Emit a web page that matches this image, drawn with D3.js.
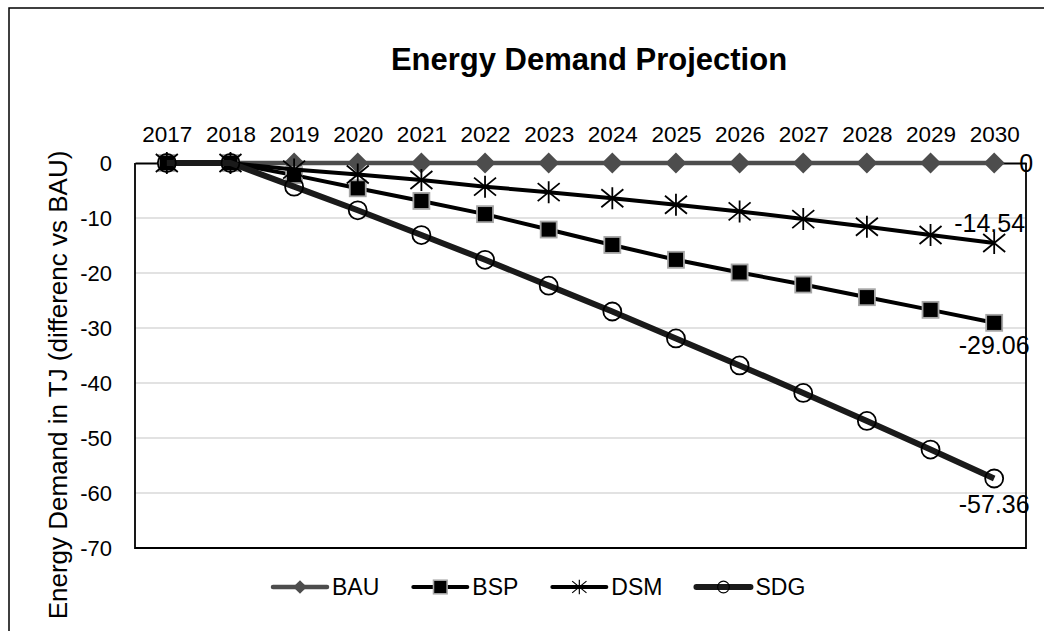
<!DOCTYPE html>
<html>
<head>
<meta charset="utf-8">
<script src="https://cdn.jsdelivr.net/npm/d3@7"></script>
<style>
  body { margin: 0; background: #fff; }
  svg { font-family: "Liberation Sans", Arial, sans-serif; }
</style>
</head>
<body>
<svg id="chart" width="1044" height="631"></svg>
<script>
// chart data
var years = ["2017", "2018", "2019", "2020", "2021", "2022", "2023", "2024", "2025", "2026", "2027", "2028", "2029", "2030"];
var bau = [0, 0, 0, 0, 0, 0, 0, 0, 0, 0, 0, 0, 0, 0];
var bsp = [0, 0, -2.2, -4.6, -6.9, -9.3, -12.1, -14.9, -17.6, -19.9, -22.1, -24.4, -26.7, -29.06];
var dsm = [0, 0, -1.2, -2.1, -3.1, -4.3, -5.3, -6.4, -7.6, -8.8, -10.2, -11.6, -13.1, -14.54];
var sdg = [0, 0, -4.3, -8.6, -13.1, -17.6, -22.3, -27.0, -31.9, -36.8, -41.8, -46.9, -52.1, -57.36];
var yTicks = [0, -10, -20, -30, -40, -50, -60, -70];

var seriesNames = ["BAU", "BSP", "DSM", "SDG"];
var seriesValues = [bau, bsp, dsm, sdg];

var svg = d3.select("#chart");
var FONT = "Liberation Sans, Arial, sans-serif";
var plain = function(d) { return String(d); }; // hyphen minus like Excel

// outer chart border (runs off the bottom/right of the picture)
svg.append("rect")
  .attr("x", 9).attr("y", 8)
  .attr("width", 1060).attr("height", 700)
  .attr("fill", "#fff")
  .attr("stroke", "#000")
  .attr("stroke-width", 1.5);

var plot = { left: 135, right: 1026, top: 163, bottom: 548 };

var x = d3.scalePoint()
  .domain(years)
  .range([plot.left, plot.right])
  .padding(0.5);

var y = d3.scaleLinear()
  .domain([-70, 0])
  .range([plot.bottom, plot.top]);

// title
svg.append("text")
  .attr("x", 589).attr("y", 70)
  .attr("text-anchor", "middle")
  .attr("font-size", 31)
  .attr("font-weight", "bold")
  .text("Energy Demand Projection");

// gridlines
svg.append("g")
  .selectAll("line")
  .data(yTicks.filter(function(d) { return d !== 0 && d !== -70; }))
  .enter().append("line")
  .attr("x1", plot.left).attr("x2", plot.right)
  .attr("y1", function(d) { return y(d); })
  .attr("y2", function(d) { return y(d); })
  .attr("stroke", "#d9d9d9")
  .attr("stroke-width", 1.5);

// plot border
svg.append("path")
  .attr("d", "M" + plot.left + "," + plot.top + "V" + plot.bottom + "H" + plot.right + "V" + plot.top)
  .attr("fill", "none")
  .attr("stroke", "#000")
  .attr("stroke-width", 1.8);

// y axis
var yAxis = svg.append("g")
  .attr("transform", "translate(" + plot.left + ",0)")
  .call(d3.axisLeft(y).tickValues(yTicks).tickFormat(plain).tickSize(0).tickPadding(23));
yAxis.select(".domain").remove();
yAxis.selectAll("text")
  .attr("font-size", 22)
  .attr("font-family", FONT)
  .attr("fill", "#000");

// x axis sits at y = 0 with labels above
var xAxis = svg.append("g")
  .attr("transform", "translate(0," + y(0) + ")")
  .call(d3.axisTop(x).tickSize(0).tickPadding(21));
xAxis.select(".domain")
  .attr("stroke", "#000")
  .attr("stroke-width", 1.8);
xAxis.selectAll("text")
  .attr("font-size", 22.5)
  .attr("font-family", FONT)
  .attr("fill", "#000");

// y axis title
svg.append("text")
  .attr("transform", "translate(67,385) rotate(-90)")
  .attr("text-anchor", "middle")
  .attr("font-size", 26)
  .text("Energy Demand in TJ (differenc vs BAU)");

// series styles
var styles = {
  BAU: { color: "#4d4d4d", width: 4.5 },
  BSP: { color: "#000", width: 4 },
  DSM: { color: "#000", width: 4 },
  SDG: { color: "#1a1a1a", width: 6 }
};

function drawMarker(g, name) {
  if (name === "BAU") {
    g.append("path")
      .attr("d", "M0,-10.5L10.5,0L0,10.5L-10.5,0Z")
      .attr("fill", "#4d4d4d");
  } else if (name === "BSP") {
    g.append("rect")
      .attr("x", -8).attr("y", -8)
      .attr("width", 16).attr("height", 16)
      .attr("fill", "#000")
      .attr("stroke", "#a6a6a6")
      .attr("stroke-width", 1.8);
  } else if (name === "DSM") {
    g.append("path")
      .attr("d", "M-11,-9L11,9M-11,9L11,-9M0,-11V11")
      .attr("stroke", "#000")
      .attr("stroke-width", 1.8)
      .attr("fill", "none");
  } else {
    g.append("circle")
      .attr("r", 9)
      .attr("fill", "none")
      .attr("stroke", "#000")
      .attr("stroke-width", 1.8);
  }
}

var line = d3.line()
  .x(function(d) { return x(d.year); })
  .y(function(d) { return y(d.value); });

seriesNames.forEach(function(name, i) {
  var pts = years.map(function(yr, j) { return { year: yr, value: seriesValues[i][j] }; });
  var g = svg.append("g").attr("class", "series");
  g.append("path")
    .datum(pts)
    .attr("d", line)
    .attr("fill", "none")
    .attr("stroke", styles[name].color)
    .attr("stroke-width", styles[name].width)
    .attr("stroke-linejoin", "round");
  g.selectAll("g.marker")
    .data(pts)
    .enter().append("g")
    .attr("class", "marker")
    .attr("transform", function(d) { return "translate(" + x(d.year) + "," + y(d.value) + ")"; })
    .each(function() { drawMarker(d3.select(this), name); });
});

// data labels on the last point
var last = years.length - 1;
var labels = [
  { v: bau[last], dx: 25, dy: 9, anchor: "start" },
  { v: bsp[last], dx: 0, dy: 31, anchor: "middle" },
  { v: dsm[last], dx: -4.5, dy: -11, anchor: "middle" },
  { v: sdg[last], dx: 0, dy: 35, anchor: "middle" }
];
svg.append("g")
  .selectAll("text")
  .data(labels)
  .enter().append("text")
  .attr("x", function(d) { return x(years[last]) + d.dx; })
  .attr("y", function(d) { return y(d.v) + d.dy; })
  .attr("text-anchor", function(d) { return d.anchor; })
  .attr("font-size", 25)
  .text(function(d) { return plain(d.v); });

// legend, laid out left to right like Excel does
var legend = svg.append("g").attr("transform", "translate(273,587)");
var lx = 0;
seriesNames.forEach(function(name) {
  var item = legend.append("g").attr("transform", "translate(" + lx + ",0)");
  item.append("line")
    .attr("x1", 0).attr("x2", 54)
    .attr("stroke", styles[name].color)
    .attr("stroke-width", styles[name].width)
    .attr("stroke-linecap", "round");
  var m = item.append("g")
    .attr("transform", "translate(27,0) scale(" + (name === "BSP" ? 0.85 : 0.65) + ")");
  drawMarker(m, name);
  var t = item.append("text")
    .attr("x", 59).attr("y", 8)
    .attr("font-size", 23)
    .text(name);
  lx += 59 + t.node().getComputedTextLength() + 34;
});
</script>
</body>
</html>
